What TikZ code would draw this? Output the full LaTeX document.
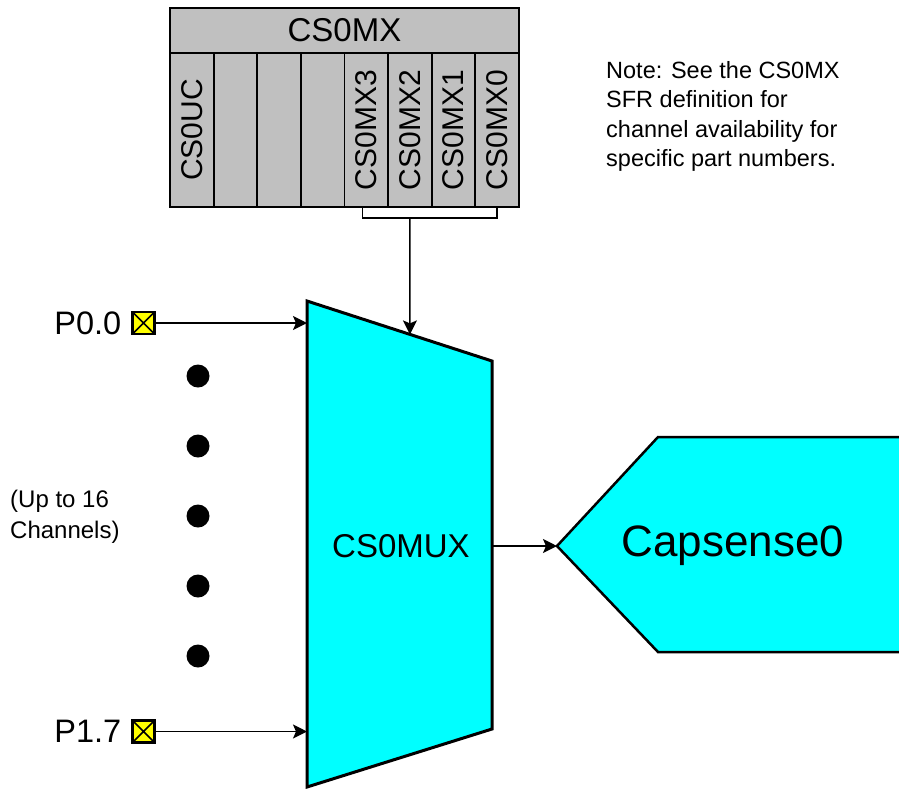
\documentclass[tikz,border=0pt]{standalone}
\usepackage{fontspec}
\setmainfont{Liberation Sans}
\usepackage{xcolor}
\definecolor{cReg}{HTML}{C0C0C0}
\definecolor{cMux}{HTML}{00FFFF}
\definecolor{cPin}{HTML}{FFFF00}
\usepackage{tikz}
\usetikzlibrary{positioning,arrows.meta,calc}
\tikzset{
  reg-head/.style={draw,line width=1.8pt,fill=cReg,minimum width=349pt,
    minimum height=45pt,inner sep=0pt,font=\fontsize{33}{36}\selectfont},
  reg-bit/.style={draw,line width=1.8pt,fill=cReg,rotate=90,minimum width=154pt,
    minimum height=43.6pt,inner sep=0pt,font=\fontsize{30}{34}\selectfont},
  pin-box/.style={draw,line width=2.2pt,fill=cPin,minimum size=22pt,inner sep=0pt,
    path picture={\draw[line width=1.5pt]
      (path picture bounding box.north west) -- (path picture bounding box.south east)
      (path picture bounding box.south west) -- (path picture bounding box.north east);}},
  pin-name/.style={inner sep=0pt,font=\fontsize{32.5}{36}\selectfont},
  ch-dot/.style={circle,fill=black,minimum size=23pt,inner sep=0pt},
  % mux and block outlines
  mux-shape/.style={draw,line width=3pt,fill=cMux,line join=miter},
  blk-shape/.style={draw,line width=2.5pt,fill=cMux,line join=miter},
  blk-label/.style={inner sep=0pt},
  side-note/.style={inner sep=0pt,align=left},
  wire/.style={line width=1.5pt},
  arrow/.style={-{Stealth[length=14pt,width=14pt,inset=3pt]},line width=1.5pt},
}
\begin{document}
\begin{tikzpicture}[x=1pt,y=-1pt]
  \clip (0,0) rectangle (899,788);
  % register
  \node[reg-head] (cs0mx) at (344.5,30.5) {CS0MX};
  \foreach \lbl [count=\k from 0] in {CS0UC,{},{},{},CS0MX3,CS0MX2,CS0MX1,CS0MX0}{
    \pgfmathtruncatemacro\b{7-\k}
    \node[reg-bit] (bit\b) at ({170+43.625*(\k+0.5)},130) {\lbl};
  }
  \coordinate (bus) at (0,218);
  \draw[wire] ([xshift=-4pt]bit3.west) -- ([xshift=-4pt]bit3.west |- bus)
    -- (bit0.west |- bus) -- (bit0.west);
  \coordinate (tap) at (bit2.west |- bus);
  \coordinate (tap-top) at (bit2.west);

  % mux
  \coordinate (mux-tl) at (307,301);
  \coordinate (mux-tr) at (492,361);
  \coordinate (mux-br) at (492,729);
  \coordinate (mux-bl) at (307,787);
  \draw[mux-shape] (mux-tl) -- (mux-tr) -- (mux-br) -- (mux-bl) -- cycle;
  \node[blk-label,font=\fontsize{33}{36}\selectfont] (muxlbl) at (401,546) {CS0MUX};
  \draw[arrow] (tap) -- (intersection of tap--tap-top and mux-tl--mux-tr);

  % capsense block
  \coordinate (cap-tip) at (557,546);
  \draw[blk-shape] (cap-tip) -- (658,437) -- (912,437) -- (912,652) -- (658,652) -- cycle;
  \node[blk-label,font=\fontsize{44}{48}\selectfont] (caplbl) at (733,546) {Capsense0};
  \draw[arrow] (cap-tip -| mux-tr) -- (cap-tip);

  % pins
  \node[pin-box] (p00) at (143.5,323) {};
  \node[pin-name,left=10pt of p00] (p00lbl) {P0.0};
  \node[pin-box] (p17) at (143.5,731.5) {};
  \node[pin-name,left=10pt of p17] (p17lbl) {P1.7};
  \draw[arrow] (p00) -- (p00 -| mux-tl);
  \draw[arrow] (p17) -- (p17 -| mux-tl);
  \foreach \i in {0,...,4}
    \node[ch-dot] (dot\i) at (198,{376+70*\i}) {};

  \node[side-note,anchor=west,font=\fontsize{24}{31}\selectfont] (chan) at (10,517)
    {(Up to 16\\Channels)};
  \node[side-note,anchor=north west,font=\fontsize{23.5}{29.5}\selectfont] (note) at (606,61)
    {Note: See the CS0MX\\SFR definition for\\channel availability for\\specific part numbers.};
\end{tikzpicture}
\end{document}
